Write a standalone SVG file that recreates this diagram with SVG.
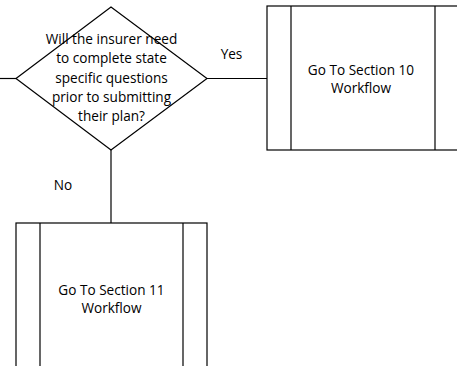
<svg xmlns="http://www.w3.org/2000/svg" width="457" height="366" viewBox="0 0 457 366">
<style>
.s{fill:#fff;stroke:#000;stroke-width:1.2}
.c{fill:none;stroke:#000;stroke-width:1.2}
text{font-family:"Open Sans","Liberation Sans",sans-serif;font-size:13.6px;fill:#000;text-anchor:middle}
</style>
<rect width="457" height="366" fill="#fff"/>
<g id="connectors">
<line class="c" x1="0" y1="78.5" x2="16" y2="78.5"/>
<line class="c" x1="207" y1="78.5" x2="267" y2="78.5"/>
<line class="c" x1="111" y1="150" x2="111" y2="223"/>
<text x="231.5" y="59">Yes</text>
<text x="63" y="189.5">No</text>
</g>
<g id="decision">
<polygon class="s" points="16,78.5 111,7 207,78.5 111,150"/>
<text x="111.5" y="44">Will the insurer need</text>
<text x="111.5" y="63.3">to complete state</text>
<text x="111.5" y="82.5">specific questions</text>
<text x="111.5" y="101.7">prior to submitting</text>
<text x="111.5" y="121">their plan?</text>
</g>
<g id="section10">
<rect class="s" x="267" y="6" width="192" height="144"/>
<line class="c" x1="291" y1="6" x2="291" y2="150"/>
<line class="c" x1="435" y1="6" x2="435" y2="150"/>
<text x="361" y="74.5">Go To Section 10</text>
<text x="361" y="92.8">Workflow</text>
</g>
<g id="section11">
<rect class="s" x="16" y="223" width="191" height="160"/>
<line class="c" x1="40" y1="223" x2="40" y2="383"/>
<line class="c" x1="183" y1="223" x2="183" y2="383"/>
<text x="111.5" y="295">Go To Section 11</text>
<text x="111.5" y="313">Workflow</text>
</g>
</svg>
